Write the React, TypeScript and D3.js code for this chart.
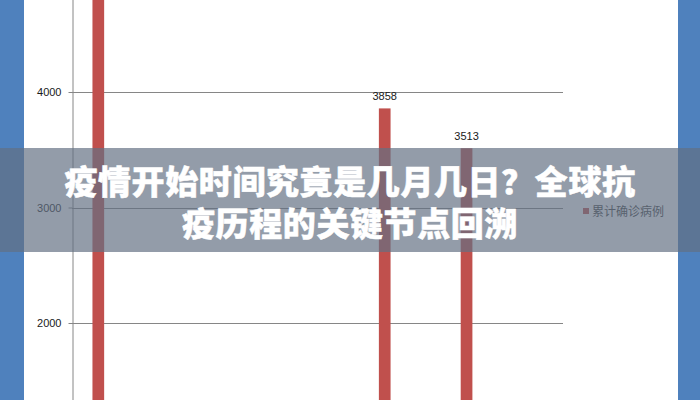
import * as d3 from "d3";
import { useEffect, useRef } from "react";

// categories along the x axis (labels sit below the visible area)
const categories = ["1", "2", "3", "4", "5", "6", "7", "8", "9", "10", "11", "12"];
const seriesNames = ["新增确诊病例", "累计确诊病例"];
// cumulative confirmed cases, only three columns carry values
const totalCases: (number | null)[] = [4900, null, null, null, null, null, null, 3858, null, 3513, null, null];
const yTicks = [2000, 3000, 4000];
const titleLines = ["疫情开始时间究竟是几月几日？全球抗", "疫历程的关键节点回溯"];

export default function App() {
  const svgRef = useRef<SVGSVGElement | null>(null);

  const width = 700;
  const height = 400;

  useEffect(() => {
    document.body.style.margin = "0";
    const svg = d3.select(svgRef.current);
    svg.selectAll("*").remove();

    const plot = { left: 72, right: 563, top: -23.5, bottom: 554 };

    // Define scales
    const yScale = d3.scaleLinear().domain([0, 5000]).range([plot.bottom, plot.top]);
    const xScale = d3.scaleBand<string>().domain(categories).range([plot.left, plot.right]);
    // excel style clustered columns, gap width 150%
    const inner = d3
      .scaleBand<string>()
      .domain(seriesNames)
      .range([xScale.bandwidth() * 0.75 / 3.5, xScale.bandwidth() * (1 - 0.75 / 3.5)]);

    // side frames
    svg.append("rect").attr("x", 0).attr("y", 0).attr("width", 24).attr("height", height).attr("fill", "#4f81bd");
    svg.append("rect").attr("x", 678).attr("y", 0).attr("width", 22).attr("height", height).attr("fill", "#4f81bd");

    // gridlines
    svg
      .append("g")
      .selectAll("line")
      .data(yTicks)
      .enter()
      .append("line")
      .attr("x1", plot.left)
      .attr("x2", plot.right)
      .attr("y1", (d) => Math.round(yScale(d)) + 0.5)
      .attr("y2", (d) => Math.round(yScale(d)) + 0.5)
      .attr("stroke", "#868686");

    // y axis
    const yAxis = d3.axisLeft(yScale).tickValues(yTicks).tickSize(4).tickPadding(7).tickFormat(d3.format("d"));
    const yAxisGroup = svg
      .append("g")
      .attr("transform", `translate(${plot.left + 0.5},0)`)
      .call(yAxis);
    yAxisGroup.select(".domain").attr("stroke", "#868686");
    yAxisGroup.selectAll(".tick line").attr("stroke", "#868686");
    yAxisGroup
      .selectAll(".tick text")
      .attr("fill", "#1a1a1a")
      .style("font-family", "'Liberation Sans', Arial, sans-serif")
      .style("font-size", "11px");

    // bars
    const bars = categories
      .map((c, i) => ({ c, v: totalCases[i] }))
      .filter((d) => d.v !== null) as { c: string; v: number }[];

    svg
      .append("g")
      .selectAll("rect")
      .data(bars)
      .enter()
      .append("rect")
      .attr("x", (d) => (xScale(d.c) ?? 0) + (inner(seriesNames[1]) ?? 0))
      .attr("y", (d) => yScale(d.v))
      .attr("width", inner.bandwidth())
      .attr("height", (d) => plot.bottom - yScale(d.v))
      .attr("fill", "#c0504d");

    // value labels (only those inside the visible area)
    svg
      .append("g")
      .selectAll("text")
      .data(bars.filter((d) => yScale(d.v) > 20))
      .enter()
      .append("text")
      .attr("x", (d) => (xScale(d.c) ?? 0) + (inner(seriesNames[1]) ?? 0) + inner.bandwidth() / 2)
      .attr("y", (d) => yScale(d.v) - 8)
      .attr("text-anchor", "middle")
      .attr("fill", "#1a1a1a")
      .style("font-family", "'Liberation Sans', Arial, sans-serif")
      .style("font-size", "11px")
      .text((d) => d.v);

    // legend
    const legend = svg
      .append("g")
      .attr("transform", "translate(583,211)");
    legend
      .append("rect")
      .attr("x", 0)
      .attr("y", -3)
      .attr("width", 6)
      .attr("height", 6)
      .attr("fill", "#c0504d");
    legend
      .append("text")
      .attr("x", 9)
      .attr("y", 4.5)
      .attr("fill", "#404040")
      .style("font-family", "'Noto Sans CJK SC', sans-serif")
      .style("font-size", "12px")
      .text(seriesNames[1]);

    // banner overlay
    svg
      .append("rect")
      .attr("x", 0)
      .attr("y", 148)
      .attr("width", width)
      .attr("height", 104)
      .attr("fill", "rgba(99,111,130,0.69)");

    svg
      .append("g")
      .selectAll("text")
      .data(titleLines)
      .enter()
      .append("text")
      .attr("x", width / 2)
      .attr("y", (d, i) => 194 + i * 42)
      .attr("text-anchor", "middle")
      .attr("fill", "#ffffff")
      .attr("stroke", "#ffffff")
      .attr("stroke-width", 0.5)
      .attr("stroke-linejoin", "round")
      .style("font-family", "'Noto Sans CJK SC', sans-serif")
      .style("font-weight", 900)
      .style("font-size", "33px")
      .style("letter-spacing", "0.6px")
      .text((d) => d);
  }, []);

  return (
    <svg
      ref={svgRef}
      width={width}
      height={height}
      style={{ display: "block", background: "#ffffff" }}
    ></svg>
  );
}
